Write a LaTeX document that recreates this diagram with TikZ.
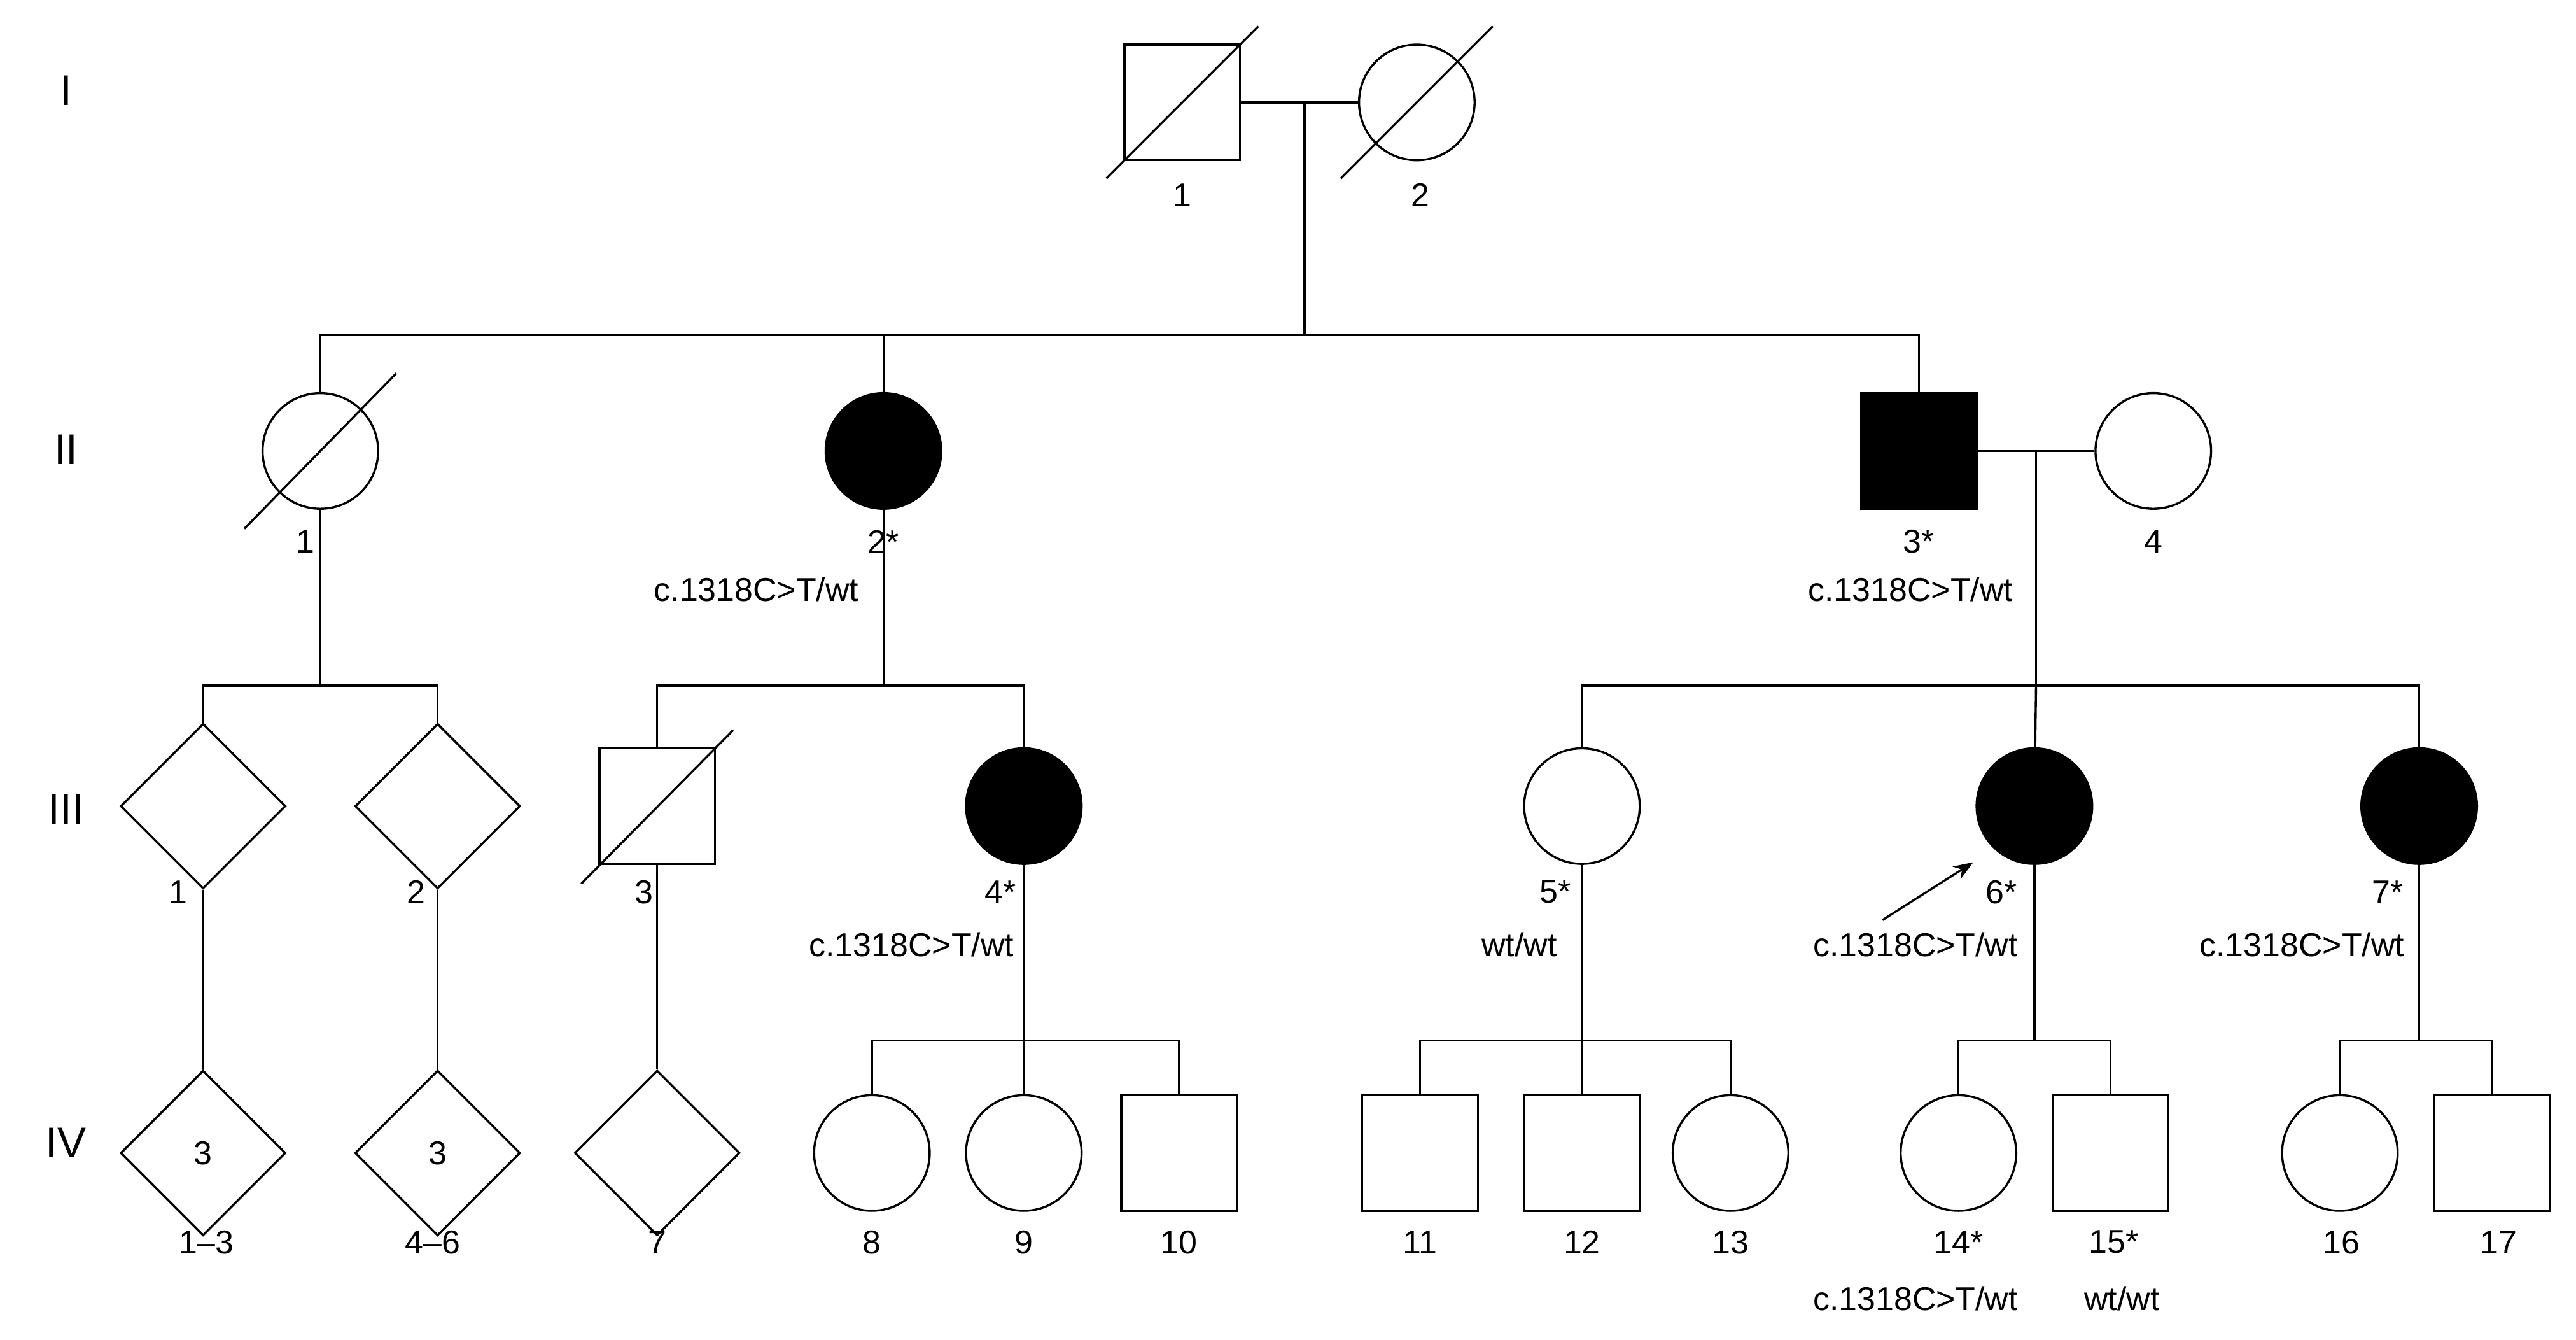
\documentclass[tikz,border=0pt]{standalone}
\usepackage{fontspec}
\setmainfont{Liberation Sans}
\usetikzlibrary{shapes.geometric,arrows.meta}
\begin{document}
\begin{tikzpicture}[x=1pt,y=-1pt,line width=1.3pt,
  male/.style={rectangle,draw,minimum size=70pt,inner sep=0pt},
  female/.style={circle,draw,minimum size=70pt,inner sep=0pt},
  unk/.style={diamond,draw,minimum size=100pt,inner sep=0pt},
  aff/.style={fill=black},
  txt/.style={inner sep=0pt,font=\fontsize{20}{24}\selectfont},
  gen/.style={inner sep=0pt,font=\fontsize{26}{30}\selectfont}]
\tikzstyle{dead} = [line width=1.3pt]
\useasboundingbox (0,0) rectangle (1560,811);
% generation labels
\node[gen] (gI) at (40,55) {I};
\node[gen] (gII) at (40,272) {II};
\node[gen] (gIII) at (40,490) {III};
\node[gen] (gIV) at (40,692) {IV};
% generation I
\node[male] (I1) at (716,62) {};
\node[female] (I2) at (858,62) {};
\node[txt] (lI1) at (716,118) {1};
\node[txt] (lI2) at (860,118) {2};
\draw[dead] (670,108) -- (762,16);
\draw[dead] (812,108) -- (904,16);
% generation II
\node[female] (II1) at (194,273) {};
\node[female,aff] (II2) at (535,273) {};
\node[male,aff] (II3) at (1162,273) {};
\node[female] (II4) at (1304,273) {};
\draw[dead] (148,320) -- (240,226);
\node[txt] (lII1) at (185,328) {1};
\node[txt] (lII2) at (535,328) {2*};
\node[txt] (gII2) at (458,357) {c.1318C>T/wt};
\node[txt] (lII3) at (1162,328) {3*};
\node[txt] (gII3) at (1157,357) {c.1318C>T/wt};
\node[txt] (lII4) at (1304,328) {4};
% generation III
\node[unk] (III1) at (123,488) {};
\node[unk] (III2) at (265,488) {};
\node[male] (III3) at (398,488) {};
\node[female,aff] (III4) at (620,488) {};
\node[female] (III5) at (958,488) {};
\node[female,aff] (III6) at (1232,488) {};
\node[female,aff] (III7) at (1465,488) {};
\draw[dead] (352,535) -- (444,442);
\node[txt] (lIII1) at (108,540) {1};
\node[txt] (lIII2) at (252,540) {2};
\node[txt] (lIII3) at (390,540) {3};
\node[txt] (lIII4) at (606,540) {4*};
\node[txt] (lIII5) at (942,540) {5*};
\node[txt] (lIII6) at (1212,540) {6*};
\node[txt] (lIII7) at (1446,540) {7*};
\node[txt] (gIII4) at (552,572) {c.1318C>T/wt};
\node[txt] (gIII5) at (920,572) {wt/wt};
\node[txt] (gIII6) at (1160,572) {c.1318C>T/wt};
\node[txt] (gIII7) at (1394,572) {c.1318C>T/wt};
\coordinate (pr) at (1140,557);
\draw[-{Stealth[length=12pt,width=9pt]}] (pr) -- (1195,522);
% generation IV
\node[unk] (IV1) at (123,698) {\fontsize{20}{24}\selectfont 3};
\node[unk] (IV2) at (265,698) {\fontsize{20}{24}\selectfont 3};
\node[unk] (IV7) at (398,698) {};
\node[female] (IV8) at (528,698) {};
\node[female] (IV9) at (620,698) {};
\node[male] (IV10) at (714,698) {};
\node[male] (IV11) at (860,698) {};
\node[male] (IV12) at (958,698) {};
\node[female] (IV13) at (1048,698) {};
\node[female] (IV14) at (1186,698) {};
\node[male] (IV15) at (1278,698) {};
\node[female] (IV16) at (1417,698) {};
\node[male] (IV17) at (1509,698) {};
\node[txt] (lIV1) at (125,752) {1–3};
\node[txt] (lIV2) at (262,752) {4–6};
\node[txt] (lIV7) at (398,752) {7};
\node[txt] (lIV8) at (528,752) {8};
\node[txt] (lIV9) at (620,752) {9};
\node[txt] (lIV10) at (714,752) {10};
\node[txt] (lIV11) at (860,752) {11};
\node[txt] (lIV12) at (958,752) {12};
\node[txt] (lIV13) at (1048,752) {13};
\node[txt] (lIV14) at (1186,752) {14*};
\node[txt] (lIV15) at (1280,752) {15*};
\node[txt] (lIV16) at (1418,752) {16};
\node[txt] (lIV17) at (1513,752) {17};
\node[txt] (gIV14) at (1160,786) {c.1318C>T/wt};
\node[txt] (gIV15) at (1285,786) {wt/wt};
% matings and sibships
\coordinate (mI) at (790,62);
\coordinate (sI) at (790,203);
\draw (I1) -- (I2);
\draw (mI) -- (sI);
\draw (II1) |- (sI) -| (II3);
\draw (II2) -- (535,203);
\coordinate (mII) at (1233,273);
\draw (II3) -- (II4);
\draw (mII) -- (1233,415);
\draw (III5) |- (1233,415) -| (III7);
\draw (III6) -- (1233,415);
\draw (II1) -- (194,415);
\draw (III1) |- (194,415) -| (III2);
\draw (II2) -- (535,415);
\draw (III3) |- (535,415) -| (III4);
\draw (III1) -- (IV1);
\draw (III2) -- (IV2);
\draw (III3) -- (IV7);
\draw (III4) -- (620,630);
\draw (IV8) |- (620,630) -| (IV10);
\draw (IV9) -- (620,630);
\draw (III5) -- (958,630);
\draw (IV11) |- (958,630) -| (IV13);
\draw (IV12) -- (958,630);
\draw (III6) -- (1232,630);
\draw (IV14) |- (1232,630) -| (IV15);
\draw (III7) -- (1465,630);
\draw (IV16) |- (1465,630) -| (IV17);
\end{tikzpicture}
\end{document}
